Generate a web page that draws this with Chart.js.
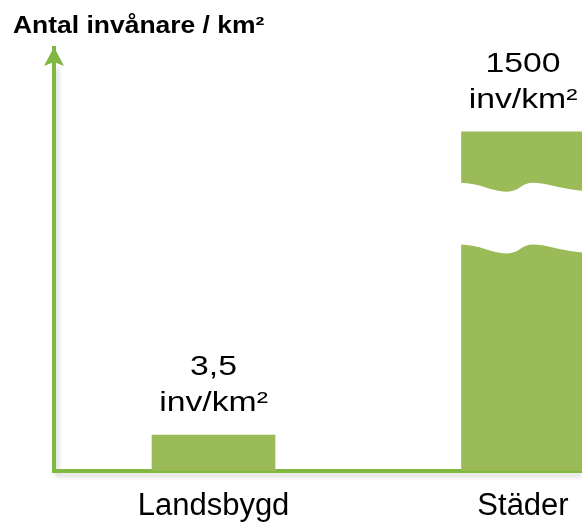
<!DOCTYPE html>
<html>
<head>
<meta charset="utf-8">
<script src="https://cdn.jsdelivr.net/npm/chart.js@4/dist/chart.umd.min.js"></script>
<style>
  html, body { margin: 0; padding: 0; background: #fff; }
  #wrap { width: 582px; height: 525px; }
</style>
</head>
<body>
<div id="wrap"><canvas id="density"></canvas></div>
<script>
const labels = ["Landsbygd", "Städer"];
const density = [3.5, 1500];
const unit = "inv/km²";
const yTitle = "Antal invånare / km²";

const barColor = "#9BBB59";
const axisColor = "#80B842";
const font = "'Liberation Sans', Arial, sans-serif";

// broken y axis: linear up to 22, squeezed gap, then compressed above 1400
function toAxis(v) {
  if (v <= 22) return v;
  if (v <= 1400) return 22 + ((v - 22) * 6) / 1378;
  return 28 + (v - 1400) * 0.0496;
}
function fromAxis(t) {
  if (t <= 22) return t;
  if (t <= 28) return 22 + ((t - 22) * 1378) / 6;
  return 1400 + (t - 28) / 0.0496;
}

class BrokenScale extends Chart.LinearScale {
  getPixelForValue(value) {
    return super.getPixelForValue(value == null ? value : toAxis(value));
  }
  getValueForPixel(pixel) {
    return fromAxis(super.getValueForPixel(pixel));
  }
}
BrokenScale.id = "broken";
BrokenScale.defaults = Chart.LinearScale.defaults;
Chart.register(BrokenScale);

function formatValue(v) {
  return String(v).replace(".", ",");
}

const axisExtras = {
  id: "axisExtras",
  beforeDraw(chart) {
    const { ctx, chartArea } = chart;
    // soft shadow under the axes
    ctx.save();
    ctx.strokeStyle = "rgba(0,0,0,0.18)";
    ctx.lineWidth = 3;
    ctx.filter = "blur(2px)";
    ctx.beginPath();
    ctx.moveTo(chartArea.left + 3, chartArea.top + 20);
    ctx.lineTo(chartArea.left + 3, chartArea.bottom + 4);
    ctx.lineTo(chartArea.right, chartArea.bottom + 4);
    ctx.stroke();
    ctx.restore();
  },
  afterDraw(chart) {
    const { ctx, chartArea } = chart;
    const x = chartArea.left;
    const top = chartArea.top;
    ctx.save();
    ctx.fillStyle = axisColor;
    ctx.beginPath();
    ctx.moveTo(x, top - 1);
    ctx.lineTo(x + 10, top + 18);
    ctx.lineTo(x, top + 14);
    ctx.lineTo(x - 10, top + 18);
    ctx.closePath();
    ctx.fill();

    // y axis title
    ctx.fillStyle = "#000";
    ctx.font = "bold 23px " + font;
    ctx.textBaseline = "alphabetic";
    ctx.translate(13, 33);
    ctx.scale(1.15, 1);
    ctx.fillText(yTitle, 0, 0);
    ctx.restore();
  },
};

const barBreak = {
  id: "barBreak",
  afterDatasetsDraw(chart) {
    const { ctx } = chart;
    const y = chart.scales.y;
    const meta = chart.getDatasetMeta(0);
    const segs = [
      [0.15, 0, 0.25, 9, 0.37, 9],
      [0.47, 9, 0.49, 0, 0.57, 0],
      [0.7, 0, 0.85, 8, 1, 8],
    ];
    meta.data.forEach((bar, i) => {
      if (density[i] < 1400) return;
      const w = bar.width + 2;
      const x0 = bar.x - w / 2;
      const upper = y.getPixelForValue(1400);
      const lower = y.getPixelForValue(22);
      ctx.save();
      ctx.fillStyle = "#fff";
      ctx.beginPath();
      ctx.moveTo(x0, upper);
      segs.forEach((s) => {
        ctx.bezierCurveTo(x0 + s[0] * w, upper + s[1], x0 + s[2] * w, upper + s[3], x0 + s[4] * w, upper + s[5]);
      });
      ctx.lineTo(x0 + w, lower + 8);
      ctx.bezierCurveTo(x0 + 0.85 * w, lower + 8, x0 + 0.7 * w, lower, x0 + 0.57 * w, lower);
      ctx.bezierCurveTo(x0 + 0.49 * w, lower, x0 + 0.47 * w, lower + 9, x0 + 0.37 * w, lower + 9);
      ctx.bezierCurveTo(x0 + 0.25 * w, lower + 9, x0 + 0.15 * w, lower, x0, lower);
      ctx.closePath();
      ctx.fill();
      ctx.restore();
    });

    // value labels above the bars
    ctx.save();
    ctx.fillStyle = "#000";
    ctx.font = "27px " + font;
    ctx.textAlign = "center";
    ctx.textBaseline = "alphabetic";
    meta.data.forEach((bar, i) => {
      ctx.save();
      ctx.translate(bar.x, bar.y - 24);
      ctx.scale(1.25, 1);
      ctx.fillText(unit, 0, 0);
      ctx.fillText(formatValue(density[i]), 0, -36);
      ctx.restore();
    });
    ctx.restore();
  },
};

new Chart(document.getElementById("density"), {
  type: "bar",
  data: {
    datasets: [
      {
        data: density.map((v, i) => ({ x: i, y: v })),
        backgroundColor: barColor,
        borderWidth: 0,
        barThickness: 123,
      },
    ],
  },
  options: {
    responsive: true,
    maintainAspectRatio: false,
    animation: false,
    layout: {
      padding: { left: 54, top: 48, right: 0, bottom: 0 },
    },
    plugins: {
      legend: { display: false },
      tooltip: { enabled: false },
    },
    scales: {
      x: {
        type: "linear",
        bounds: "data",
        offset: false,
        min: -0.5154,
        max: 1.1906,
        grid: { display: false, drawTicks: false, offset: false },
        border: { color: axisColor, width: 4 },
        ticks: {
          autoSkip: false,
          maxRotation: 0,
          padding: 17,
          color: "#000",
          font: { family: font, size: 31 },
          callback: (v) => labels[v] ?? "",
        },
        afterBuildTicks: (s) => {
          s.ticks = labels.map((_, i) => ({ value: i }));
        },
        afterFit: (s) => {
          s.height = 54;
          s.paddingLeft = 0;
          s.paddingRight = 0;
        },
      },
      y: {
        type: "broken",
        min: 0,
        max: 41.1,
        grid: { display: false, drawTicks: false },
        border: { color: axisColor, width: 4 },
        ticks: { display: false },
        afterFit: (s) => {
          s.width = 0;
        },
      },
    },
  },
  plugins: [axisExtras, barBreak],
});
</script>
</body>
</html>
